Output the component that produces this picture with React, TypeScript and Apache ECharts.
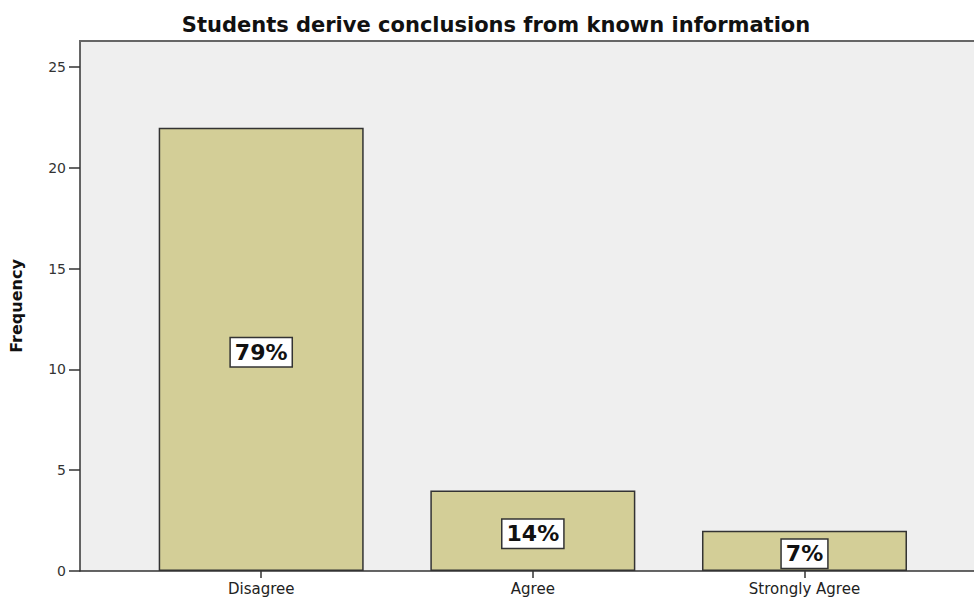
import React, { useEffect, useRef } from "react";
import * as echarts from "echarts";

const categories = ["Disagree", "Agree", "Strongly Agree"];
const frequencies = [22, 4, 2];
const percentLabels = ["79%", "14%", "7%"];
const yTicks = [0, 5, 10, 15, 20, 25];

export default function App() {
  const ref = useRef<HTMLDivElement>(null);
  useEffect(() => {
    if (!ref.current) return;
    const chart = echarts.init(ref.current, null, { renderer: "svg" });
    const font = "'DejaVu Sans', Arial, sans-serif";
    chart.setOption({
      animation: false,
      backgroundColor: "#ffffff",
      title: {
        text: "Students derive conclusions from known information",
        left: 491,
        top: 9,
        textAlign: "center",
        textStyle: { fontFamily: font, fontSize: 21, fontWeight: "bold", color: "#111" },
      },
      grid: {
        left: 79,
        top: 41,
        width: 895,
        height: 530,
        show: true,
        backgroundColor: "#efefef",
        borderWidth: 0,
      },
      graphic: [
        {
          type: "line",
          shape: { x1: 79, y1: 41, x2: 974, y2: 41 },
          style: { stroke: "#666", lineWidth: 2 },
          z: 10,
        },
      ],
      xAxis: {
        type: "value",
        min: -0.667,
        max: 2.624,
        splitLine: { show: false },
        axisLine: { show: true, onZero: false, lineStyle: { color: "#333", width: 1.5 } },
        axisTick: {
          show: true,
          customValues: categories.map((_, i) => i),
          length: 7,
          lineStyle: { color: "#333", width: 1.5 },
        },
        axisLabel: {
          customValues: categories.map((_, i) => i),
          formatter: (v: number) => categories[Math.round(v)] ?? "",
          fontFamily: font,
          fontSize: 15,
          color: "#222",
          margin: 10,
        },
      },
      yAxis: {
        type: "value",
        min: 0,
        max: 26.3,
        interval: 5,
        name: "Frequency",
        nameLocation: "middle",
        nameGap: 56,
        nameTextStyle: { fontFamily: font, fontSize: 16, fontWeight: "bold", color: "#111" },
        splitLine: { show: false },
        axisLine: { show: true, onZero: false, lineStyle: { color: "#333", width: 1.5 } },
        axisTick: { show: true, customValues: yTicks, length: 11, lineStyle: { color: "#333", width: 1.5 } },
        axisLabel: {
          customValues: yTicks,
          fontFamily: font,
          fontSize: 14,
          color: "#333",
          margin: 14,
        },
      },
      series: [
        {
          type: "bar",
          barWidth: 205,
          data: frequencies.map((v, i) => [i, v]),
          itemStyle: { color: "#d3ce97", borderColor: "#333", borderWidth: 1.5 },
          label: {
            show: true,
            position: "inside",
            offset: [0, 3],
            formatter: (p: any) => percentLabels[p.dataIndex],
            fontFamily: font,
            fontSize: 22,
            fontWeight: "bold",
            color: "#111",
            backgroundColor: "#ffffff",
            borderColor: "#333",
            borderWidth: 1.5,
            padding: [3, 4, 3, 4],
          },
        },
      ],
    });
    return () => chart.dispose();
  }, []);
  return (
    <div
      ref={ref}
      style={{ position: "absolute", left: 0, top: 0, width: 974, height: 597 }}
    />
  );
}
